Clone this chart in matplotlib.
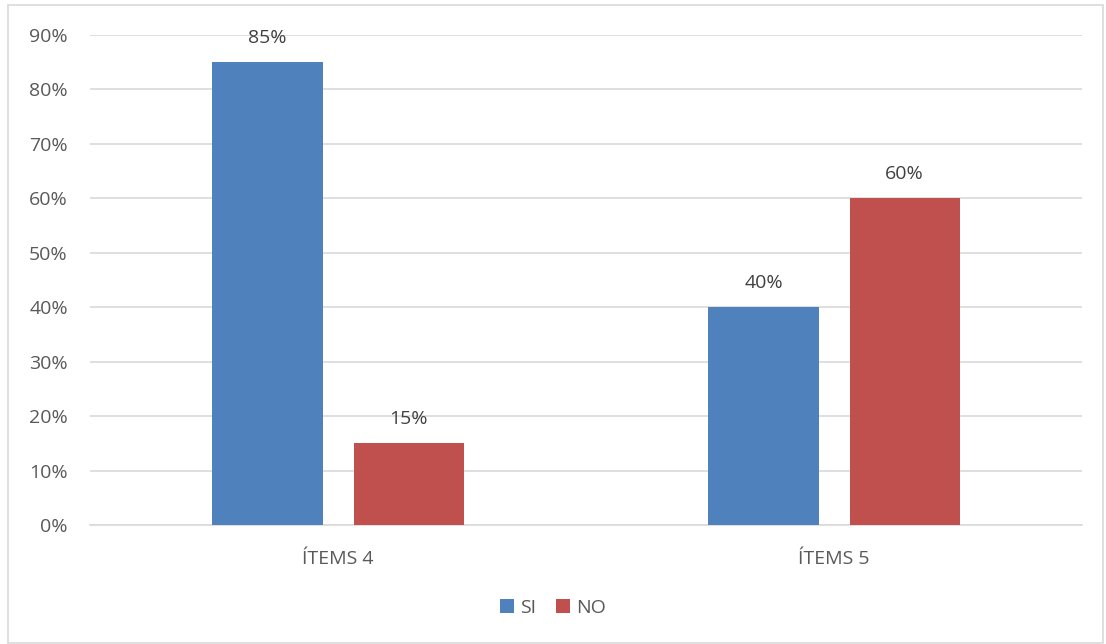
import numpy as np
import matplotlib.pyplot as plt
from matplotlib.patches import Rectangle

# Data
categories = ['ÍTEMS 4', 'ÍTEMS 5']
si_values = [0.85, 0.40]
no_values = [0.15, 0.60]
series_names = ['SI', 'NO']

blue = '#4F81BD'
red = '#C0504D'
text_col = '#595959'
grid_col = '#D9D9D9'

plt.rcParams['font.family'] = ['Open Sans', 'DejaVu Sans']
fs = 14

fig = plt.figure(figsize=(11.06, 6.44), dpi=100)
ax = fig.add_axes([90/1106, 1 - 525/644, (1082-90)/1106, (525-35)/644])

x = np.arange(len(categories))
width = 0.222
gap = 0.0625
off = (width + gap) / 2

bars_si = ax.bar(x - off, si_values, width, color=blue, label=series_names[0], zorder=3)
bars_no = ax.bar(x + off, no_values, width, color=red, label=series_names[1], zorder=3)

for bars in (bars_si, bars_no):
    for b in bars:
        h = b.get_height()
        ax.annotate(f'{h*100:.0f}%', (b.get_x() + b.get_width()/2, h),
                    xytext=(0, 11), textcoords='offset points',
                    ha='center', va='bottom', fontsize=fs, color='#404040')

ax.set_xlim(-0.5, 1.5)
ax.set_ylim(0, 0.9)
ax.set_yticks(np.arange(0, 0.91, 0.1))
ax.set_yticklabels([f'{int(round(v*100))}%' for v in np.arange(0, 0.91, 0.1)])
ax.set_xticks(x)
ax.set_xticklabels(categories)

ax.yaxis.grid(True, color=grid_col, linewidth=1.2, zorder=0)
for s in ['top', 'right', 'left']:
    ax.spines[s].set_visible(False)
ax.spines['bottom'].set_color(grid_col)
ax.spines['bottom'].set_linewidth(1.2)
ax.tick_params(axis='both', length=0, labelsize=fs, labelcolor=text_col)
ax.tick_params(axis='y', pad=16)
ax.tick_params(axis='x', pad=18)

ax.legend(loc='center', bbox_to_anchor=(0.5, 1 - 608/644), bbox_transform=fig.transFigure,
          ncol=2, frameon=False, fontsize=fs, handlelength=0.75, handleheight=0.75,
          handletextpad=0.3, columnspacing=1.0, labelcolor=text_col)

# chart border
fig.patches.append(Rectangle((8/1106, 0.002), 1095/1106, 1 - 5/644 - 0.002,
                             transform=fig.transFigure, fill=False,
                             edgecolor='#D9D9D9', linewidth=1.2))

fig.savefig('out.png', dpi=100)
